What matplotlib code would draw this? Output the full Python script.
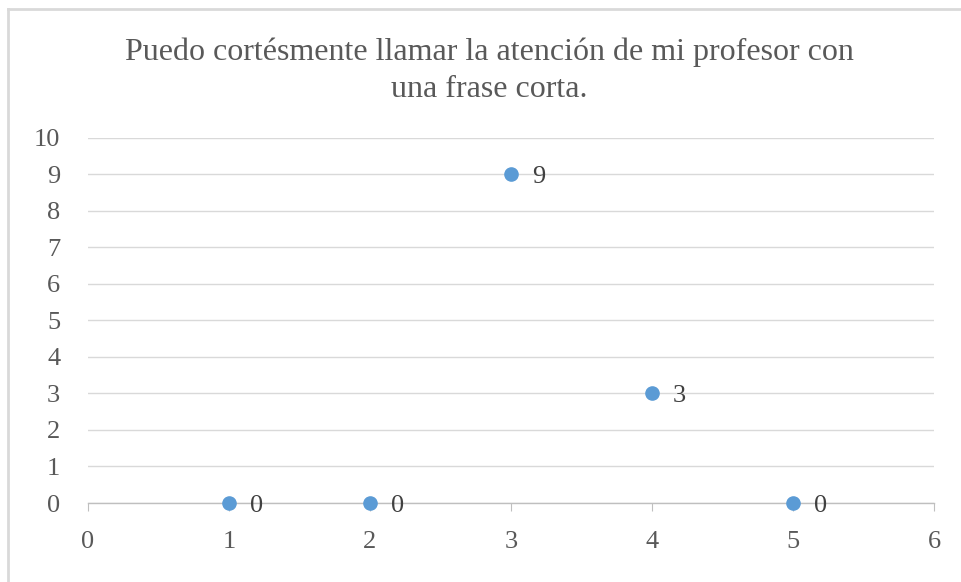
import matplotlib
matplotlib.use("Agg")
import matplotlib.pyplot as plt
from matplotlib.lines import Line2D

title = "Puedo cortésmente llamar la atención de mi profesor con\nuna frase corta."
x_vals = [1, 2, 3, 4, 5]
y_vals = [0, 0, 9, 3, 0]
x_ticks = [0, 1, 2, 3, 4, 5, 6]
y_ticks = list(range(0, 11))

W, H = 961, 582
fig = plt.figure(figsize=(W / 100, H / 100), dpi=100)
fig.patch.set_facecolor("white")
serif = ["Liberation Serif", "DejaVu Serif"]

# chart border (top and left visible)
fig.add_artist(Line2D([8 / W, 8 / W], [0, 1 - 9 / H], transform=fig.transFigure, color="#D9D9D9", lw=2))
fig.add_artist(Line2D([8 / W, 1], [1 - 9 / H, 1 - 9 / H], transform=fig.transFigure, color="#D9D9D9", lw=2))

ax = fig.add_axes([88 / W, 1 - 503 / H, (934 - 88) / W, (503 - 137.7) / H])
ax.set_xlim(0, 6)
ax.set_ylim(0, 10)
ax.set_xticks(x_ticks)
ax.set_yticks(y_ticks)
ax.grid(axis="y", color="#D9D9D9", lw=1)
ax.set_axisbelow(True)
for s in ["top", "right", "left"]:
    ax.spines[s].set_visible(False)
ax.spines["bottom"].set_color("#BFBFBF")
ax.spines["bottom"].set_linewidth(1)
ax.tick_params(axis="x", direction="out", length=6, color="#BFBFBF", pad=14, labelcolor="#595959", labelsize=19)
ax.tick_params(axis="y", length=0, pad=20, labelcolor="#595959", labelsize=19)
for lab in ax.get_xticklabels() + ax.get_yticklabels():
    lab.set_fontfamily(serif)
    lab.set_verticalalignment("center_baseline") if lab in ax.get_yticklabels() else None

ax.plot(x_vals, y_vals, "o", color="#5B9BD5", markersize=9.5, clip_on=False, zorder=3)
for xv, yv in zip(x_vals, y_vals):
    ax.annotate(str(yv), (xv, yv), xytext=(15, 0), textcoords="offset points",
                ha="left", va="center_baseline", fontsize=19, color="#404040", family=serif)

fig.text(489 / W, 1 - 71 / H, title, ha="center", va="center", fontsize=23,
         color="#595959", family=serif, linespacing=1.38)

fig.savefig("out.png", dpi=100)
